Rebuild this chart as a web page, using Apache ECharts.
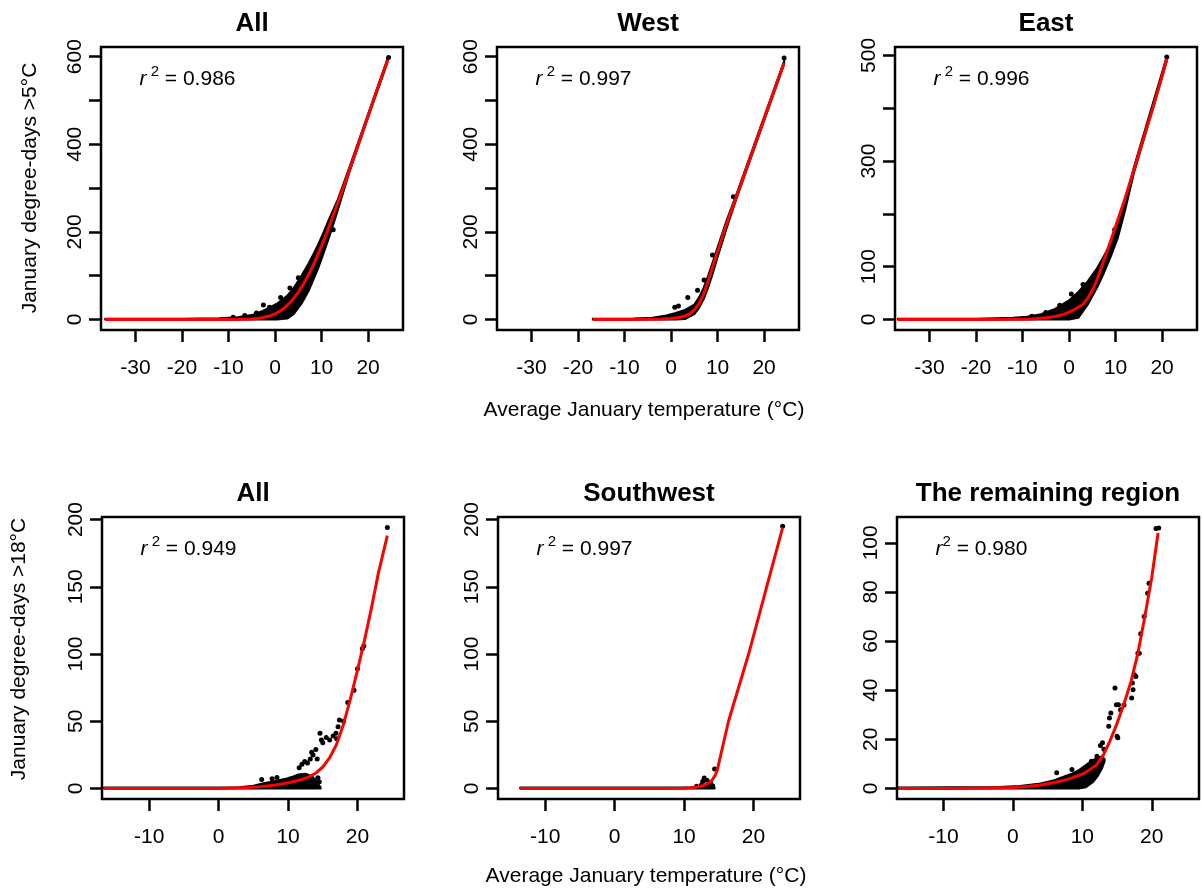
<!DOCTYPE html>
<html><head><meta charset="utf-8">
<script src="https://cdn.jsdelivr.net/npm/echarts@6/dist/echarts.min.js"></script>
<style>html,body{margin:0;padding:0;background:#fff}#c{width:1202px;height:888px}</style>
</head><body><div id="c"></div>
<script>
// ---------- DATA ----------
const titles = ['All', 'West', 'East', 'All', 'Southwest', 'The remaining region'];
const r2Values = ['0.986', '0.997', '0.996', '0.949', '0.997', '0.980'];
const xTicksTop = [-30, -20, -10, 0, 10, 20];
const xTicksBottom = [-10, 0, 10, 20];
const yTicks1 = [0, 100, 200, 300, 400, 500, 600];
const yLabels1 = [0, 200, 400, 600];
const yTicks3 = [0, 100, 200, 300, 400, 500];
const yLabels3 = [0, 100, 300, 500];
const yTicks4 = [0, 50, 100, 150, 200];
const yTicks6 = [0, 20, 40, 60, 80, 100];

// Panel 1: All, >5°C
const p1FitT  = [-36.5, -25, -15, -10, -7, -5, -3, -1, 0, 1, 2, 3, 4, 5, 6, 7, 8, 9, 10, 11, 12, 13, 14, 15, 16, 18, 20, 22, 24.2];
const p1FitDD = [0, 0, 0, 0.1, 0.5, 1.3, 3.6, 8.7, 13, 18.6, 26, 36, 48, 62, 79, 98, 119, 143, 168, 195, 223, 252, 281, 311, 342, 403, 465, 527, 592];
const p1BandT  = [-36.5, -20, -12, -8, -5, -2.5, 0.4, 2.6, 4.0, 5.8, 7.2, 8.3, 9.3, 10.4, 11.5, 12.2, 13.5, 16, 20, 24.2];
const p1BandLo = [0, 0, 0, 0, 0, 0, 0, 2, 12, 38, 65, 92, 118, 150, 184, 206, 250, 337, 461, 588];
const p1BandHi = [1.5, 1.5, 3, 5, 10, 20, 36, 54, 72, 102, 128, 150, 172, 198, 226, 243, 274, 348, 469, 596];
const p1PtsT  = [-9, -6.5, -4, -2.5, -1.2, 1.2, 3.2, 5.0, 12.5, 24.4];
const p1PtsDD = [5, 9, 15, 33, 28, 50, 72, 95, 205, 598];

// Panel 2: West, >5°C
const p2FitT  = [-16.8, -10, -5, -2, 0, 2, 3, 4, 5, 6, 7, 8, 9, 10, 11, 12, 14, 16, 18, 20, 22, 24.3];
const p2FitDD = [0, 0, 0.3, 1, 2, 5, 8, 13, 22, 36, 58, 88, 122, 155, 188, 220, 279, 339, 398, 458, 518, 586];
const p2BandT  = [-16.8, -8, -4, -1, 1, 3, 5, 6, 7, 8, 9, 10, 11, 12, 14, 24.3];
const p2BandLo = [0, 0, 0, 0, 0, 1, 12, 26, 46, 74, 106, 142, 176, 210, 274, 582];
const p2BandHi = [1.5, 2, 4, 9, 15, 22, 34, 50, 72, 100, 132, 165, 196, 228, 284, 590];
const p2PtsT  = [0.8, 1.6, 3.6, 5.7, 7.1, 8.9, 13.4, 24.3];
const p2PtsDD = [28, 31, 50, 67, 90, 147, 280, 597];

// Panel 3: East, >5°C
const p3FitT  = [-36.8, -20, -12, -8, -5, -3, -1, 0, 1, 2, 3, 4, 5, 6, 7, 8, 9, 10, 11, 12, 14, 16, 18, 20, 21];
const p3FitDD = [0, 0, 0.2, 1, 3, 5.5, 10, 14, 18, 23, 29, 40, 55, 75, 100, 125, 150, 176, 202, 228, 285, 343, 400, 461, 494];
const p3BandT  = [-36.8, -20, -12, -9, -6, -3, 0, 2, 4, 6, 7.5, 9, 10.5, 12, 14, 21];
const p3BandLo = [0, 0, 0, 0, 0, 0, 0, 3, 28, 60, 88, 120, 155, 205, 279, 489];
const p3BandHi = [1.2, 1.2, 3, 5, 10, 20, 36, 52, 72, 97, 120, 145, 177, 224, 290, 498];
const p3PtsT  = [-8, -5, -2, 0.5, 3, 9.8, 21];
const p3PtsDD = [6, 13, 27, 48, 66, 170, 497];

// Panel 4: All, >18°C
const p4FitT  = [-16.5, -10, -5, 0, 2, 4, 6, 8, 10, 11, 12, 13, 14, 15, 16, 17, 18, 19, 20, 21, 22, 23, 24.3];
const p4FitDD = [0, 0, 0, 0.1, 0.3, 0.7, 1.4, 2.5, 4.2, 5.4, 6.8, 8.6, 11.5, 16, 23, 33, 48, 67, 88, 110, 134, 160, 188];
const p4BandT  = [-16.5, 3, 5, 6.5, 8, 9.5, 10.5, 11.5, 12.5, 13.5, 14.0, 14.4, 14.7];
const p4BandLo = [0, 0, 0, 0, 0, 0, 0, 0, 0, 0, 0, 0, 0];
const p4BandHi = [0.8, 1, 2, 4, 5.5, 7, 8.5, 10.5, 11, 9, 6, 3, 0.8];
const p4PtsT  = [6.2, 7.7, 8.4, 11.6, 12.0, 12.4, 12.8, 13.2, 13.6, 14.0, 13.4, 14.6, 14.8, 14.2, 14.5, 14.3, 15.0, 15.5, 16.0, 16.5, 16.9, 17.2, 17.4, 17.0, 18.0, 18.6, 19.5, 20.0, 20.7, 20.9, 24.3];
const p4PtsDD = [6.7, 7.2, 8.2, 15.5, 18, 20, 19, 22, 25, 29, 27, 41, 36, 22, 5, 8, 34, 38, 36, 39, 41, 46, 51, 37, 50, 64, 73, 89, 104, 106, 194];

// Panel 5: Southwest, >18°C
const p5FitT  = [-13.6, -5, 0, 5, 10, 11, 12, 12.8, 13.5, 14.0, 14.5, 14.8, 16.4, 19.3, 21.9, 24.2];
const p5FitDD = [0, 0, 0, 0, 0.2, 0.6, 1.3, 2.3, 3.8, 6, 10, 14, 50, 100, 150, 194];
const p5BandT  = [-13.6, 10, 11, 12, 13, 14, 14.4];
const p5BandLo = [0, 0, 0, 0, 0, 0, 0];
const p5BandHi = [0.8, 0.8, 1, 1.5, 2, 2, 0.8];
const p5PtsT  = [11.8, 12.5, 12.7, 12.9, 13.1, 13.3, 13.7, 13.8, 14.1, 14.4, 24.2];
const p5PtsDD = [1.7, 2.7, 5.4, 7.9, 1.7, 6.2, 2.7, 4.2, 2, 14.6, 195];

// Panel 6: The remaining region, >18°C
const p6FitT  = [-16.5, -10, -5, 0, 2, 4, 6, 8, 10, 11, 12, 13, 14, 15, 16, 17, 18, 19, 20, 20.9];
const p6FitDD = [0, 0, 0.05, 0.4, 0.8, 1.4, 2.4, 3.8, 5.8, 7.5, 9.5, 13.5, 19.5, 26.5, 34.5, 43.5, 55, 70, 86, 104];
const p6BandT  = [-16.5, -2, 1, 4, 5.8, 7, 8.5, 9.5, 10.5, 11.5, 12.2, 12.8, 13.2];
const p6BandLo = [0, 0, 0, 0, 0, 0, 0, 0, 0.5, 2.5, 5, 8, 11];
const p6BandHi = [0.4, 0.6, 1, 2, 3.2, 4.5, 6, 7.5, 9.5, 11.5, 12.5, 13, 12];
const p6PtsT  = [6.3, 8.5, 11.3, 12.1, 12.6, 12.9, 13.1, 13.8, 13.9, 14.1, 14.7, 14.9, 15.1, 15.2, 15.5, 15.0, 16.0, 17.1, 17.3, 17.5, 17.2, 17.7, 18.0, 18.2, 18.4, 18.9, 19.4, 19.6, 20.6, 21.0];
const p6PtsDD = [6.4, 7.7, 11.1, 13.1, 17.5, 18.6, 16, 25.3, 28.7, 30.7, 40.9, 34.1, 20.6, 34.1, 32, 21.2, 34, 36.8, 40.2, 46.3, 42.9, 45.6, 55, 55, 63, 70, 79.5, 83.5, 105.8, 106];

// ---------- LAYOUT ----------
const FONT = '"Liberation Sans", Arial, Helvetica, sans-serif';
const zip = (a, b) => a.map((v, i) => [v, b[i]]);

const panels = [
  {fitT: p1FitT, fitD: p1FitDD, bT: p1BandT, lo: p1BandLo, hi: p1BandHi, pT: p1PtsT, pD: p1PtsDD,
   box: [101, 47, 302, 283], x: [-37.4, 27.5], y: [-24, 622], xt: xTicksTop, yt: yTicks1, yl: yLabels1},
  {fitT: p2FitT, fitD: p2FitDD, bT: p2BandT, lo: p2BandLo, hi: p2BandHi, pT: p2PtsT, pD: p2PtsDD,
   box: [497, 47, 302, 283], x: [-37.4, 27.5], y: [-24, 622], xt: xTicksTop, yt: yTicks1, yl: yLabels1},
  {fitT: p3FitT, fitD: p3FitDD, bT: p3BandT, lo: p3BandLo, hi: p3BandHi, pT: p3PtsT, pD: p3PtsDD,
   box: [895, 47, 302, 283], x: [-37.4, 27.5], y: [-20, 516], xt: xTicksTop, yt: yTicks3, yl: yLabels3},
  {fitT: p4FitT, fitD: p4FitDD, bT: p4BandT, lo: p4BandLo, hi: p4BandHi, pT: p4PtsT, pD: p4PtsDD,
   box: [102, 517, 302, 282], x: [-16.8, 26.7], y: [-7.8, 201.9], xt: xTicksBottom, yt: yTicks4, yl: yTicks4},
  {fitT: p5FitT, fitD: p5FitDD, bT: p5BandT, lo: p5BandLo, hi: p5BandHi, pT: p5PtsT, pD: p5PtsDD,
   box: [498, 517, 302, 282], x: [-16.8, 26.7], y: [-7.8, 201.9], xt: xTicksBottom, yt: yTicks4, yl: yTicks4},
  {fitT: p6FitT, fitD: p6FitDD, bT: p6BandT, lo: p6BandLo, hi: p6BandHi, pT: p6PtsT, pD: p6PtsDD,
   box: [897, 517, 302, 282], x: [-16.7, 26.8], y: [-4.3, 110.5], xt: xTicksBottom, yt: yTicks6, yl: yTicks6}
];

const grids = [], xAxes = [], yAxes = [], series = [], graphics = [];
panels.forEach((p, k) => {
  const [l, t, w, h] = p.box;
  grids.push({left: l, top: t, width: w, height: h, show: true, borderColor: '#000', borderWidth: 2.5, backgroundColor: 'transparent'});
  xAxes.push({
    type: 'value', gridIndex: k, min: p.x[0], max: p.x[1], position: 'bottom',
    axisLine: {show: false, onZero: false}, splitLine: {show: false},
    axisTick: {show: true, length: 12, inside: false, customValues: p.xt, lineStyle: {color: '#000', width: 2.5}},
    axisLabel: {show: true, customValues: p.xt, margin: 28, fontSize: 21, color: '#000', fontFamily: FONT,
                showMinLabel: true, showMaxLabel: true}
  });
  yAxes.push({
    type: 'value', gridIndex: k, min: p.y[0], max: p.y[1], position: 'left',
    axisLine: {show: false, onZero: false}, splitLine: {show: false},
    axisTick: {show: true, length: 12, inside: false, customValues: p.yt, lineStyle: {color: '#000', width: 2.5}},
    axisLabel: {show: true, customValues: p.yl, margin: 15, rotate: 90, fontSize: 21, color: '#000', fontFamily: FONT,
                showMinLabel: true, showMaxLabel: true}
  });
  // dense point cloud envelope
  series.push({
    type: 'custom', coordinateSystem: 'cartesian2d', xAxisIndex: k, yAxisIndex: k, silent: true, z: 2,
    data: [[p.bT[0], p.lo[0]]],
    renderItem: function (params, api) {
      const pts = [];
      for (let i = 0; i < p.bT.length; i++) pts.push(api.coord([p.bT[i], p.hi[i]]));
      for (let i = p.bT.length - 1; i >= 0; i--) pts.push(api.coord([p.bT[i], p.lo[i]]));
      return {type: 'polygon', shape: {points: pts}, style: {fill: '#000', stroke: '#000', lineWidth: 2, lineJoin: 'round'}};
    }
  });
  // individual points
  series.push({
    type: 'scatter', xAxisIndex: k, yAxisIndex: k, data: zip(p.pT, p.pD), symbol: 'circle', symbolSize: 5,
    itemStyle: {color: '#000', opacity: 1}, silent: true, z: 3
  });
  // fitted red curve
  series.push({
    type: 'line', xAxisIndex: k, yAxisIndex: k, data: zip(p.fitT, p.fitD), showSymbol: false, symbol: 'none',
    smooth: false, lineStyle: {color: '#ff0000', width: 3, join: 'round'}, silent: true, z: 4
  });
  // panel title
  graphics.push({type: 'text', x: l + w / 2, y: t - 23, silent: true,
    style: {text: titles[k], font: 'bold 26px ' + FONT, fill: '#000', textAlign: 'center', textVerticalAlign: 'middle'}});
  // r^2 annotation
  const gap = k === 5 ? '' : ' ';
  graphics.push({type: 'text', x: l + 38.5, y: t + 32.5, silent: true, z: 10,
    style: {text: '{i|r}{s|' + gap + '2}{n| = ' + r2Values[k] + '}', textAlign: 'left', textVerticalAlign: 'middle', fill: '#000',
      rich: {
        i: {fontSize: 21, fontStyle: 'italic', lineHeight: 31, fontFamily: FONT, fill: '#000', verticalAlign: 'middle'},
        s: {fontSize: 15, lineHeight: 15, fontFamily: FONT, fill: '#000', verticalAlign: 'top'},
        n: {fontSize: 21, lineHeight: 31, fontFamily: FONT, fill: '#000', verticalAlign: 'middle'}
      }}});
});

// axis titles
graphics.push({type: 'text', x: 644, y: 410, silent: true,
  style: {text: 'Average January temperature (°C)', font: '21px ' + FONT, fill: '#000', textAlign: 'center', textVerticalAlign: 'middle'}});
graphics.push({type: 'text', x: 646, y: 876, silent: true,
  style: {text: 'Average January temperature (°C)', font: '21px ' + FONT, fill: '#000', textAlign: 'center', textVerticalAlign: 'middle'}});
graphics.push({type: 'text', x: 30, y: 188, rotation: Math.PI / 2, silent: true,
  style: {text: 'January degree-days >5°C', font: '21px ' + FONT, fill: '#000', textAlign: 'center', textVerticalAlign: 'middle'}});
graphics.push({type: 'text', x: 19, y: 649, rotation: Math.PI / 2, silent: true,
  style: {text: 'January degree-days >18°C', font: '21px ' + FONT, fill: '#000', textAlign: 'center', textVerticalAlign: 'middle'}});

const chart = echarts.init(document.getElementById('c'), null, {renderer: 'canvas'});
chart.setOption({
  animation: false,
  backgroundColor: '#fff',
  grid: grids, xAxis: xAxes, yAxis: yAxes, series: series,
  graphic: {elements: graphics}
});
</script>
</body></html>
